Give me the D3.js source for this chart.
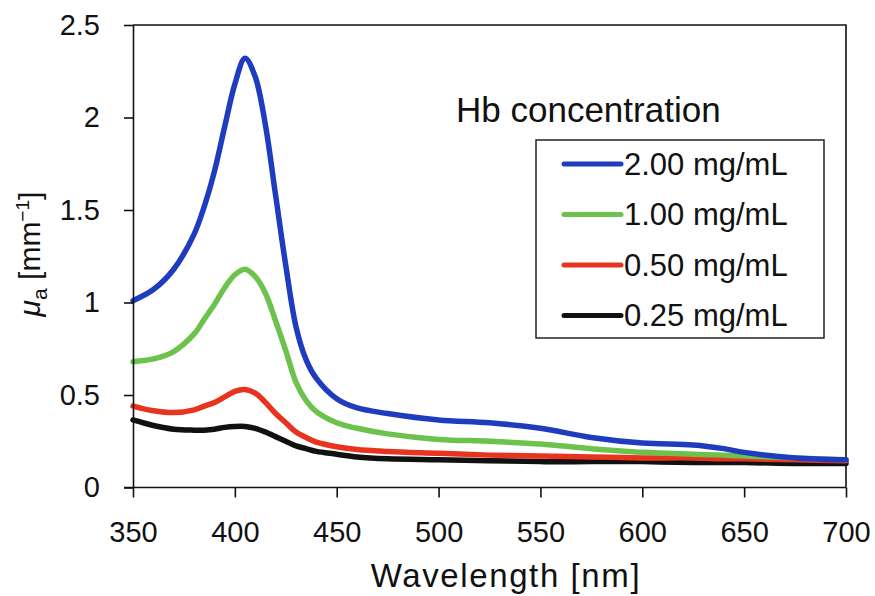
<!DOCTYPE html>
<html>
<head>
<meta charset="utf-8">
<script src="https://cdnjs.cloudflare.com/ajax/libs/d3/7.8.5/d3.min.js"></script>
<style>
  body { margin: 0; background: #fff; }
  svg { display: block; font-family: 'Liberation Sans', Arial, sans-serif; }
  .axis path, .axis line { stroke: #111; stroke-width: 1.6; }
  .axis text { font-size: 29px; fill: #111; }
</style>
</head>
<body>
<svg id="chart" width="875" height="596"></svg>
<script>
var wavelengths = [350, 360, 370, 380, 385, 390, 395, 400, 405, 410, 415, 420, 425, 430, 435, 440, 450, 460, 475, 500, 525, 550, 575, 600, 625, 640, 650, 675, 700];

var hb200 = [1.01, 1.07, 1.18, 1.37, 1.52, 1.71, 1.95, 2.18, 2.32, 2.22, 1.96, 1.58, 1.20, 0.87, 0.69, 0.59, 0.48, 0.43, 0.40, 0.365, 0.35, 0.32, 0.27, 0.24, 0.23, 0.21, 0.19, 0.16, 0.15];
var hb100 = [0.68, 0.695, 0.735, 0.83, 0.91, 0.99, 1.08, 1.15, 1.18, 1.14, 1.05, 0.90, 0.74, 0.57, 0.47, 0.41, 0.35, 0.32, 0.29, 0.26, 0.25, 0.235, 0.21, 0.19, 0.18, 0.175, 0.17, 0.16, 0.15];
var hb050 = [0.44, 0.415, 0.405, 0.42, 0.44, 0.46, 0.49, 0.52, 0.53, 0.51, 0.46, 0.40, 0.35, 0.30, 0.27, 0.245, 0.22, 0.205, 0.195, 0.185, 0.175, 0.17, 0.165, 0.16, 0.16, 0.155, 0.155, 0.15, 0.145];
var hb025 = [0.365, 0.335, 0.315, 0.31, 0.31, 0.315, 0.325, 0.33, 0.33, 0.32, 0.30, 0.275, 0.25, 0.225, 0.21, 0.195, 0.18, 0.165, 0.155, 0.15, 0.145, 0.14, 0.14, 0.14, 0.135, 0.135, 0.135, 0.13, 0.13];

var seriesLabels = ['2.00 mg/mL', '1.00 mg/mL', '0.50 mg/mL', '0.25 mg/mL'];
var seriesColors = ['#1f3cbf', '#6cc24c', '#e8331e', '#111111'];
var xTicks = [350, 400, 450, 500, 550, 600, 650, 700];
var yTicks = [0, 0.5, 1, 1.5, 2, 2.5];

var series = [hb200, hb100, hb050, hb025].map(function(values, i) {
  return {
    label: seriesLabels[i],
    color: seriesColors[i],
    points: wavelengths.map(function(w, j) { return { x: w, y: values[j] }; })
  };
});

var margin = { left: 133, right: 29, top: 25, bottom: 108.5 };
var svg = d3.select('#chart');
var width = +svg.attr('width') - margin.left - margin.right;
var height = +svg.attr('height') - margin.top - margin.bottom;

var x = d3.scaleLinear().domain([350, 700]).range([0, width]);
var y = d3.scaleLinear().domain([0, 2.5]).range([height, 0]);

var g = svg.append('g')
  .attr('transform', 'translate(' + margin.left + ',' + margin.top + ')');

// frame on top and right
g.append('path')
  .attr('d', 'M0,0H' + width + 'V' + height)
  .attr('fill', 'none')
  .attr('stroke', '#111')
  .attr('stroke-width', 1.6);

var line = d3.line()
  .x(function(d) { return x(d.x); })
  .y(function(d) { return y(d.y); })
  .curve(d3.curveCatmullRom.alpha(0.5));

// draw black first so the coloured curves stay visible where they meet
g.selectAll('path.series')
  .data(series.slice().reverse())
  .enter().append('path')
  .attr('class', 'series')
  .attr('d', function(d) { return line(d.points); })
  .attr('fill', 'none')
  .attr('stroke', function(d) { return d.color; })
  .attr('stroke-width', 5.5)
  .attr('stroke-linejoin', 'round')
  .attr('stroke-linecap', 'round');

g.append('g')
  .attr('class', 'axis')
  .attr('transform', 'translate(0,' + height + ')')
  .call(d3.axisBottom(x).tickValues(xTicks).tickSize(10).tickSizeOuter(0).tickPadding(24).tickFormat(d3.format('d')))
  .call(function(s) { s.select('.domain').attr('d', 'M-9,0H' + width); s.selectAll('text').attr('font-family', null); });

g.append('g')
  .attr('class', 'axis')
  .call(d3.axisLeft(y).tickValues(yTicks).tickSize(9).tickSizeOuter(0).tickPadding(24).tickFormat(function(d) { return String(d); }))
  .call(function(s) { s.selectAll('text').attr('font-family', null); });

svg.append('text')
  .attr('x', 506)
  .attr('y', 587)
  .attr('text-anchor', 'middle')
  .attr('font-size', 33)
  .attr('letter-spacing', 1.6)
  .attr('fill', '#111')
  .text('Wavelength [nm]');

var yLabel = svg.append('text')
  .attr('transform', 'translate(40,254) rotate(-90)')
  .attr('text-anchor', 'middle')
  .attr('font-size', 30)
  .attr('fill', '#111');
yLabel.append('tspan').attr('font-style', 'italic').text('μ');
yLabel.append('tspan').attr('font-size', 21).attr('dy', 7).text('a');
yLabel.append('tspan').attr('dy', -7).text(' [mm');
yLabel.append('tspan').attr('font-size', 19).attr('dy', -11).text('−1');
yLabel.append('tspan').attr('dy', 11).text(']');

// legend
svg.append('text')
  .attr('x', 456)
  .attr('y', 121.5)
  .attr('font-size', 35)
  .attr('fill', '#111')
  .text('Hb concentration');

var legend = svg.append('g');
legend.append('rect')
  .attr('x', 536)
  .attr('y', 140)
  .attr('width', 288)
  .attr('height', 198)
  .attr('fill', '#fff')
  .attr('stroke', '#222')
  .attr('stroke-width', 1.5);

var rows = legend.selectAll('g.row')
  .data(series)
  .enter().append('g')
  .attr('class', 'row')
  .attr('transform', function(d, i) { return 'translate(564,' + (164 + i * 50.5) + ')'; });

rows.append('line')
  .attr('x1', 0)
  .attr('x2', 57)
  .attr('stroke', function(d) { return d.color; })
  .attr('stroke-width', 5)
  .attr('stroke-linecap', 'round');

rows.append('text')
  .attr('x', 60)
  .attr('dy', '0.34em')
  .attr('font-size', 31)
  .attr('fill', '#111')
  .text(function(d) { return d.label; });
</script>
</body>
</html>
